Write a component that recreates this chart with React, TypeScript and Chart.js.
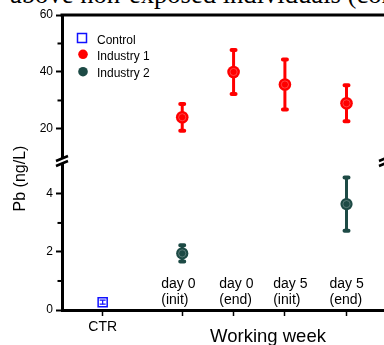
import React, { useEffect, useRef } from 'react';
import { Chart, registerables } from 'chart.js';

Chart.register(...registerables);

// ---- data ----
const categories = ['CTR', 'day 0 (init)', 'day 0 (end)', 'day 5 (init)', 'day 5 (end)'];
const categoryX = [0, 1.55, 2.55, 3.55, 4.75];
const dayLabelLines = [
  ['day 0', '(init)'],
  ['day 0', '(end)'],
  ['day 5', '(init)'],
  ['day 5', '(end)'],
];
const seriesNames = ['Control', 'Industry 1', 'Industry 2'];
const controlCats = [0];
const controlMean = [0.27];
const controlSD = [0.07];
const industry1Cats = [1, 2, 3, 4];
const industry1Mean = [24.1, 40.0, 35.6, 29.0];
const industry1SD = [4.7, 7.7, 8.8, 6.3];
const industry2Cats = [1, 4];
const industry2Mean = [1.95, 3.65];
const industry2SD = [0.28, 0.92];
const topTicks = [20, 30, 40, 50, 60];
const topTickLabels = [20, 40, 60];
const bottomTicks = [0, 1, 2, 3, 4];
const bottomTickLabels = [0, 2, 4];
const headerText = 'above non-exposed individuals (control';
const yTitle = 'Pb (ng/L)';
const xTitle = 'Working week';

// ---- style ----
const FONT = "'Liberation Sans', Arial, sans-serif";
const RED = '#ff0000';
const GREEN = '#1d4a45';
const BLUE = '#1010ff';

const barStyles = [
  { width: 1.2, capHalf: 3, capWidth: 1.2, cap: 'butt' },
  { width: 3, capHalf: 2, capWidth: 4, cap: 'round' },
  { width: 3, capHalf: 2, capWidth: 4, cap: 'round' },
];

function drawBreak(ctx: CanvasRenderingContext2D, cx: number, cy: number) {
  ctx.save();
  ctx.fillStyle = '#fff';
  ctx.beginPath();
  ctx.moveTo(cx - 6, cy + 0.5);
  ctx.lineTo(cx + 6, cy - 4.5);
  ctx.lineTo(cx + 6, cy + 0.5);
  ctx.lineTo(cx - 6, cy + 5.5);
  ctx.closePath();
  ctx.fill();
  ctx.strokeStyle = '#000';
  ctx.lineWidth = 2.5;
  ctx.beginPath();
  ctx.moveTo(cx - 6, cy + 0.5);
  ctx.lineTo(cx + 6, cy - 4.5);
  ctx.moveTo(cx - 6, cy + 5.5);
  ctx.lineTo(cx + 6, cy + 0.5);
  ctx.stroke();
  ctx.restore();
}

const customPlugin = {
  id: 'custom',
  beforeDatasetsDraw(chart: any) {
    const ctx: CanvasRenderingContext2D = chart.ctx;
    const xs = chart.scales.x;
    chart.data.datasets.forEach((ds: any, i: number) => {
      const ys = chart.scales[ds.yAxisID];
      const st = barStyles[i];
      ctx.save();
      ctx.strokeStyle = ds.borderColor;
      ds.data.forEach((p: any, j: number) => {
        const sd = ds.errors[j];
        const x = xs.getPixelForValue(p.x);
        const yh = ys.getPixelForValue(p.y + sd);
        const yl = ys.getPixelForValue(p.y - sd);
        ctx.lineCap = 'butt';
        ctx.lineWidth = st.width;
        ctx.beginPath();
        ctx.moveTo(x, yh);
        ctx.lineTo(x, yl);
        ctx.stroke();
        ctx.lineCap = st.cap as CanvasLineCap;
        ctx.lineWidth = st.capWidth;
        ctx.beginPath();
        ctx.moveTo(x - st.capHalf, yh);
        ctx.lineTo(x + st.capHalf, yh);
        ctx.moveTo(x - st.capHalf, yl);
        ctx.lineTo(x + st.capHalf, yl);
        ctx.stroke();
      });
      ctx.restore();
    });
  },
  afterDatasetsDraw(chart: any) {
    const ctx: CanvasRenderingContext2D = chart.ctx;
    [1, 2].forEach((i) => {
      const meta = chart.getDatasetMeta(i);
      meta.data.forEach((el: any) => {
        ctx.save();
        ctx.strokeStyle = 'rgba(255,255,255,0.25)';
        ctx.lineWidth = 1;
        ctx.beginPath();
        ctx.arc(el.x, el.y, 3.6, 0, Math.PI * 2);
        ctx.stroke();
        ctx.restore();
      });
    });
  },
  afterDraw(chart: any) {
    const ctx: CanvasRenderingContext2D = chart.ctx;
    const ca = chart.chartArea;
    const xs = chart.scales.x;
    const yTop = chart.scales.yTop;
    const yBot = chart.scales.yBot;
    ctx.save();
    // top frame
    ctx.strokeStyle = '#000';
    ctx.lineWidth = 3;
    ctx.beginPath();
    ctx.moveTo(ca.left - 1.5, ca.top);
    ctx.lineTo(ca.right, ca.top);
    ctx.stroke();
    // minor ticks
    ctx.fillStyle = '#000';
    topTicks.filter((v) => !topTickLabels.includes(v)).forEach((v) => {
      const y = yTop.getPixelForValue(v);
      ctx.fillRect(ca.left - 4.5, y - 1, 4, 2);
    });
    bottomTicks.filter((v) => !bottomTickLabels.includes(v)).forEach((v) => {
      const y = yBot.getPixelForValue(v);
      ctx.fillRect(ca.left - 4.5, y - 1, 4, 2);
    });
    // breaks
    const by = yBot.top - 1.5;
    drawBreak(ctx, ca.left, by);
    drawBreak(ctx, 385, by);
    // day labels inside plot
    ctx.fillStyle = '#000';
    ctx.font = `14px ${FONT}`;
    ctx.textAlign = 'left';
    ctx.textBaseline = 'alphabetic';
    const leftShift = [21, 14.3, 11.7, 17];
    dayLabelLines.forEach((lines, k) => {
      const x = xs.getPixelForValue(categoryX[k + 1]) - leftShift[k];
      ctx.fillText(lines[0], x, ca.bottom - 22.5);
      ctx.fillText(lines[1], x, ca.bottom - 6);
    });
    // x title
    ctx.font = `18.5px ${FONT}`;
    ctx.textAlign = 'center';
    ctx.fillText(xTitle, 268, 342);
    // y title
    ctx.save();
    ctx.translate(25, 178.5);
    ctx.rotate(-Math.PI / 2);
    ctx.font = `16px ${FONT}`;
    ctx.textAlign = 'center';
    ctx.fillText(yTitle, 0, 0);
    ctx.restore();
    // legend
    ctx.font = `12px ${FONT}`;
    ctx.textAlign = 'left';
    ctx.strokeStyle = BLUE;
    ctx.lineWidth = 1.5;
    ctx.strokeRect(77.5, 33.5, 9, 9);
    ctx.fillStyle = RED;
    ctx.beginPath();
    ctx.arc(83, 54.3, 4.8, 0, Math.PI * 2);
    ctx.fill();
    ctx.fillStyle = GREEN;
    ctx.beginPath();
    ctx.arc(83, 71.7, 4.8, 0, Math.PI * 2);
    ctx.fill();
    ctx.fillStyle = '#000';
    ctx.fillText(seriesNames[0], 97, 43.5);
    ctx.fillText(seriesNames[1], 97, 60);
    ctx.fillText(seriesNames[2], 97, 76.5);
    ctx.restore();
  },
};

export default function App() {
  const ref = useRef<HTMLCanvasElement>(null);

  useEffect(() => {
    if (!ref.current) return;
    const mk = (cats: number[], vals: number[]) => vals.map((v, i) => ({ x: categoryX[cats[i]], y: v }));
    const tickFont = { family: FONT, size: 12 };
    const chart = new Chart(ref.current, {
      type: 'line',
      data: {
        datasets: [
          {
            label: seriesNames[0],
            data: mk(controlCats, controlMean),
            errors: controlSD,
            yAxisID: 'yBot',
            showLine: false,
            pointStyle: 'rect',
            pointRadius: 6.4,
            pointBorderWidth: 1.5,
            backgroundColor: 'rgba(0,0,0,0)',
            borderColor: BLUE,
          } as any,
          {
            label: seriesNames[1],
            data: mk(industry1Cats, industry1Mean),
            errors: industry1SD,
            yAxisID: 'yTop',
            showLine: false,
            pointStyle: 'circle',
            pointRadius: 6.3,
            pointBorderWidth: 0,
            backgroundColor: RED,
            borderColor: RED,
          } as any,
          {
            label: seriesNames[2],
            data: mk(industry2Cats, industry2Mean),
            errors: industry2SD,
            yAxisID: 'yBot',
            showLine: false,
            pointStyle: 'circle',
            pointRadius: 6.1,
            pointBorderWidth: 0,
            backgroundColor: GREEN,
            borderColor: GREEN,
          } as any,
        ],
      },
      options: {
        animation: false,
        responsive: false,
        devicePixelRatio: 1,
        events: [],
        layout: { padding: { top: 15, right: 5, left: 0, bottom: 0 } },
        plugins: { legend: { display: false }, tooltip: { enabled: false } },
        scales: {
          x: {
            type: 'linear',
            min: -0.792,
            max: 5.638,
            afterBuildTicks: (s: any) => {
              s.ticks = categoryX.map((v) => ({ value: v }));
            },
            afterFit: (s: any) => {
              s.height = 35;
            },
            ticks: {
              autoSkip: false,
              maxRotation: 0,
              padding: 3,
              color: '#000',
              font: { family: FONT, size: 14 },
              callback: (v: any) => (v === categoryX[0] ? categories[0] : ''),
            },
            grid: { drawOnChartArea: false, tickLength: 6, tickWidth: 1.5, tickColor: '#000' },
            border: { width: 3, color: '#000' },
          },
          yBot: {
            type: 'linear',
            position: 'left',
            stack: 'pb',
            stackWeight: 148,
            min: 0,
            max: 5.1,
            afterBuildTicks: (s: any) => {
              s.ticks = bottomTicks.map((v) => ({ value: v }));
            },
            afterFit: (s: any) => {
              s.width = 62;
            },
            ticks: {
              padding: 3,
              color: '#000',
              font: tickFont,
              callback: (v: any) => (bottomTickLabels.includes(v) ? String(v) : ''),
            },
            grid: {
              drawOnChartArea: false,
              tickLength: 6,
              tickWidth: 2,
              tickColor: (c: any) => (c.tick && bottomTickLabels.includes(c.tick.value) ? '#000' : 'rgba(0,0,0,0)'),
            },
            border: { width: 3, color: '#000' },
          },
          yTop: {
            type: 'linear',
            position: 'left',
            stack: 'pb',
            stackWeight: 147,
            min: 8.4,
            max: 60,
            afterBuildTicks: (s: any) => {
              s.ticks = topTicks.map((v) => ({ value: v }));
            },
            afterFit: (s: any) => {
              s.width = 62;
            },
            ticks: {
              padding: 3,
              color: '#000',
              font: tickFont,
              callback: (v: any) => (topTickLabels.includes(v) ? String(v) : ''),
            },
            grid: {
              drawOnChartArea: false,
              tickLength: 6,
              tickWidth: 2,
              tickColor: (c: any) => (c.tick && topTickLabels.includes(c.tick.value) ? '#000' : 'rgba(0,0,0,0)'),
            },
            border: { width: 3, color: '#000' },
          },
        },
      } as any,
      plugins: [customPlugin],
    });
    return () => chart.destroy();
  }, []);

  return (
    <div style={{ position: 'absolute', left: 0, top: 0, width: 384, height: 345, overflow: 'hidden', background: '#fff' }}>
      <div
        style={{
          position: 'absolute',
          left: 10,
          top: -18,
          whiteSpace: 'nowrap',
          fontFamily: "'Liberation Serif', 'Times New Roman', serif",
          fontSize: '26.6px',
          lineHeight: '25px',
          color: '#000',
        }}
      >
        {headerText}
      </div>
      <canvas ref={ref} width={400} height={345} style={{ position: 'absolute', left: 0, top: 0, width: 400, height: 345 }} />
    </div>
  );
}
